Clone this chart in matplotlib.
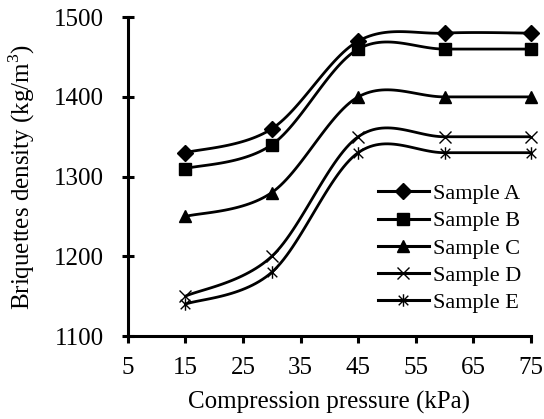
import numpy as np
import matplotlib
matplotlib.use("Agg")
import matplotlib.pyplot as plt
from matplotlib.path import Path

plt.rcParams['font.family'] = ['Liberation Serif', 'DejaVu Serif']
plt.rcParams['mathtext.fontset'] = 'custom'
plt.rcParams['mathtext.rm'] = 'Liberation Serif'

pressure = [15, 30, 45, 60, 75]
sample_a = [1330, 1360, 1470, 1480, 1480]
sample_b = [1310, 1340, 1460, 1460, 1460]
sample_c = [1250, 1280, 1400, 1400, 1400]
sample_d = [1150, 1200, 1350, 1350, 1350]
sample_e = [1140, 1180, 1330, 1330, 1330]
labels = ["Sample A", "Sample B", "Sample C", "Sample D", "Sample E"]
x_ticks = [5, 15, 25, 35, 45, 55, 65, 75]
y_ticks = [1100, 1200, 1300, 1400, 1500]

# star marker: x plus vertical line
star = Path([(-1, -1), (1, 1), (-1, 1), (1, -1), (0, -1.3), (0, 1.3)],
            [Path.MOVETO, Path.LINETO, Path.MOVETO, Path.LINETO, Path.MOVETO, Path.LINETO])

markers = ['D', 's', '^', 'x', star]
msizes = [8, 9, 9, 9, 9]


def smooth(xs, ys, n=30):
    xs = np.asarray(xs, float); ys = np.asarray(ys, float)
    P = np.column_stack([xs, ys])
    out = []
    for i in range(len(P) - 1):
        p0 = P[i - 1] if i > 0 else P[i]
        p1 = P[i]; p2 = P[i + 1]
        p3 = P[i + 2] if i + 2 < len(P) else P[i + 1]
        c1 = p1 + (p2 - p0) / 6.0
        c2 = p2 - (p3 - p1) / 6.0
        t = np.linspace(0, 1, n)[:, None]
        seg = ((1 - t) ** 3) * p1 + 3 * ((1 - t) ** 2) * t * c1 + 3 * (1 - t) * t ** 2 * c2 + t ** 3 * p2
        out.append(seg if i == 0 else seg[1:])
    s = np.vstack(out)
    return s[:, 0], s[:, 1]


fig = plt.figure(figsize=(5.44, 4.19), dpi=100)
ax = fig.add_axes([0.235, 0.198, 0.741, 0.761])

series = [sample_a, sample_b, sample_c, sample_d, sample_e]
handles = []
for ys, m, ms, lab in zip(series, markers, msizes, labels):
    sx, sy = smooth(pressure, ys)
    ax.plot(sx, sy, color='black', lw=2.0, zorder=2, solid_capstyle='butt')
    ax.plot(pressure, ys, linestyle='none', marker=m, ms=ms, color='black',
            mfc='black', mec='black', mew=1.0, zorder=3, clip_on=False)
    h, = ax.plot([], [], color='black', lw=2.2, marker=m, ms=ms, mfc='black',
                 mec='black', mew=1.0, label=lab)
    handles.append(h)

ax.set_xlim(5, 75)
ax.set_ylim(1100, 1500)
ax.set_xticks(x_ticks)
ax.set_yticks(y_ticks)
for s in ['top', 'right']:
    ax.spines[s].set_visible(False)
for s in ['left', 'bottom']:
    ax.spines[s].set_linewidth(2.2)
ax.tick_params(axis='x', direction='out', length=5, width=2.2, labelsize=18, pad=10)
ax.tick_params(axis='y', direction='inout', length=9, width=2.2, labelsize=18, pad=13)

ax.set_xlabel('Compression pressure (kPa)', fontsize=18, labelpad=9)
ax.set_ylabel('Briquettes density (kg/m$^3$)', fontsize=18, labelpad=12)

leg = ax.legend(handles=handles, loc='lower right', bbox_to_anchor=(1.01, 0.03),
                frameon=False, fontsize=16, handlelength=2.3, handletextpad=0.2,
                labelspacing=0.3, borderaxespad=0.2)

fig.savefig('out.png', dpi=100)
